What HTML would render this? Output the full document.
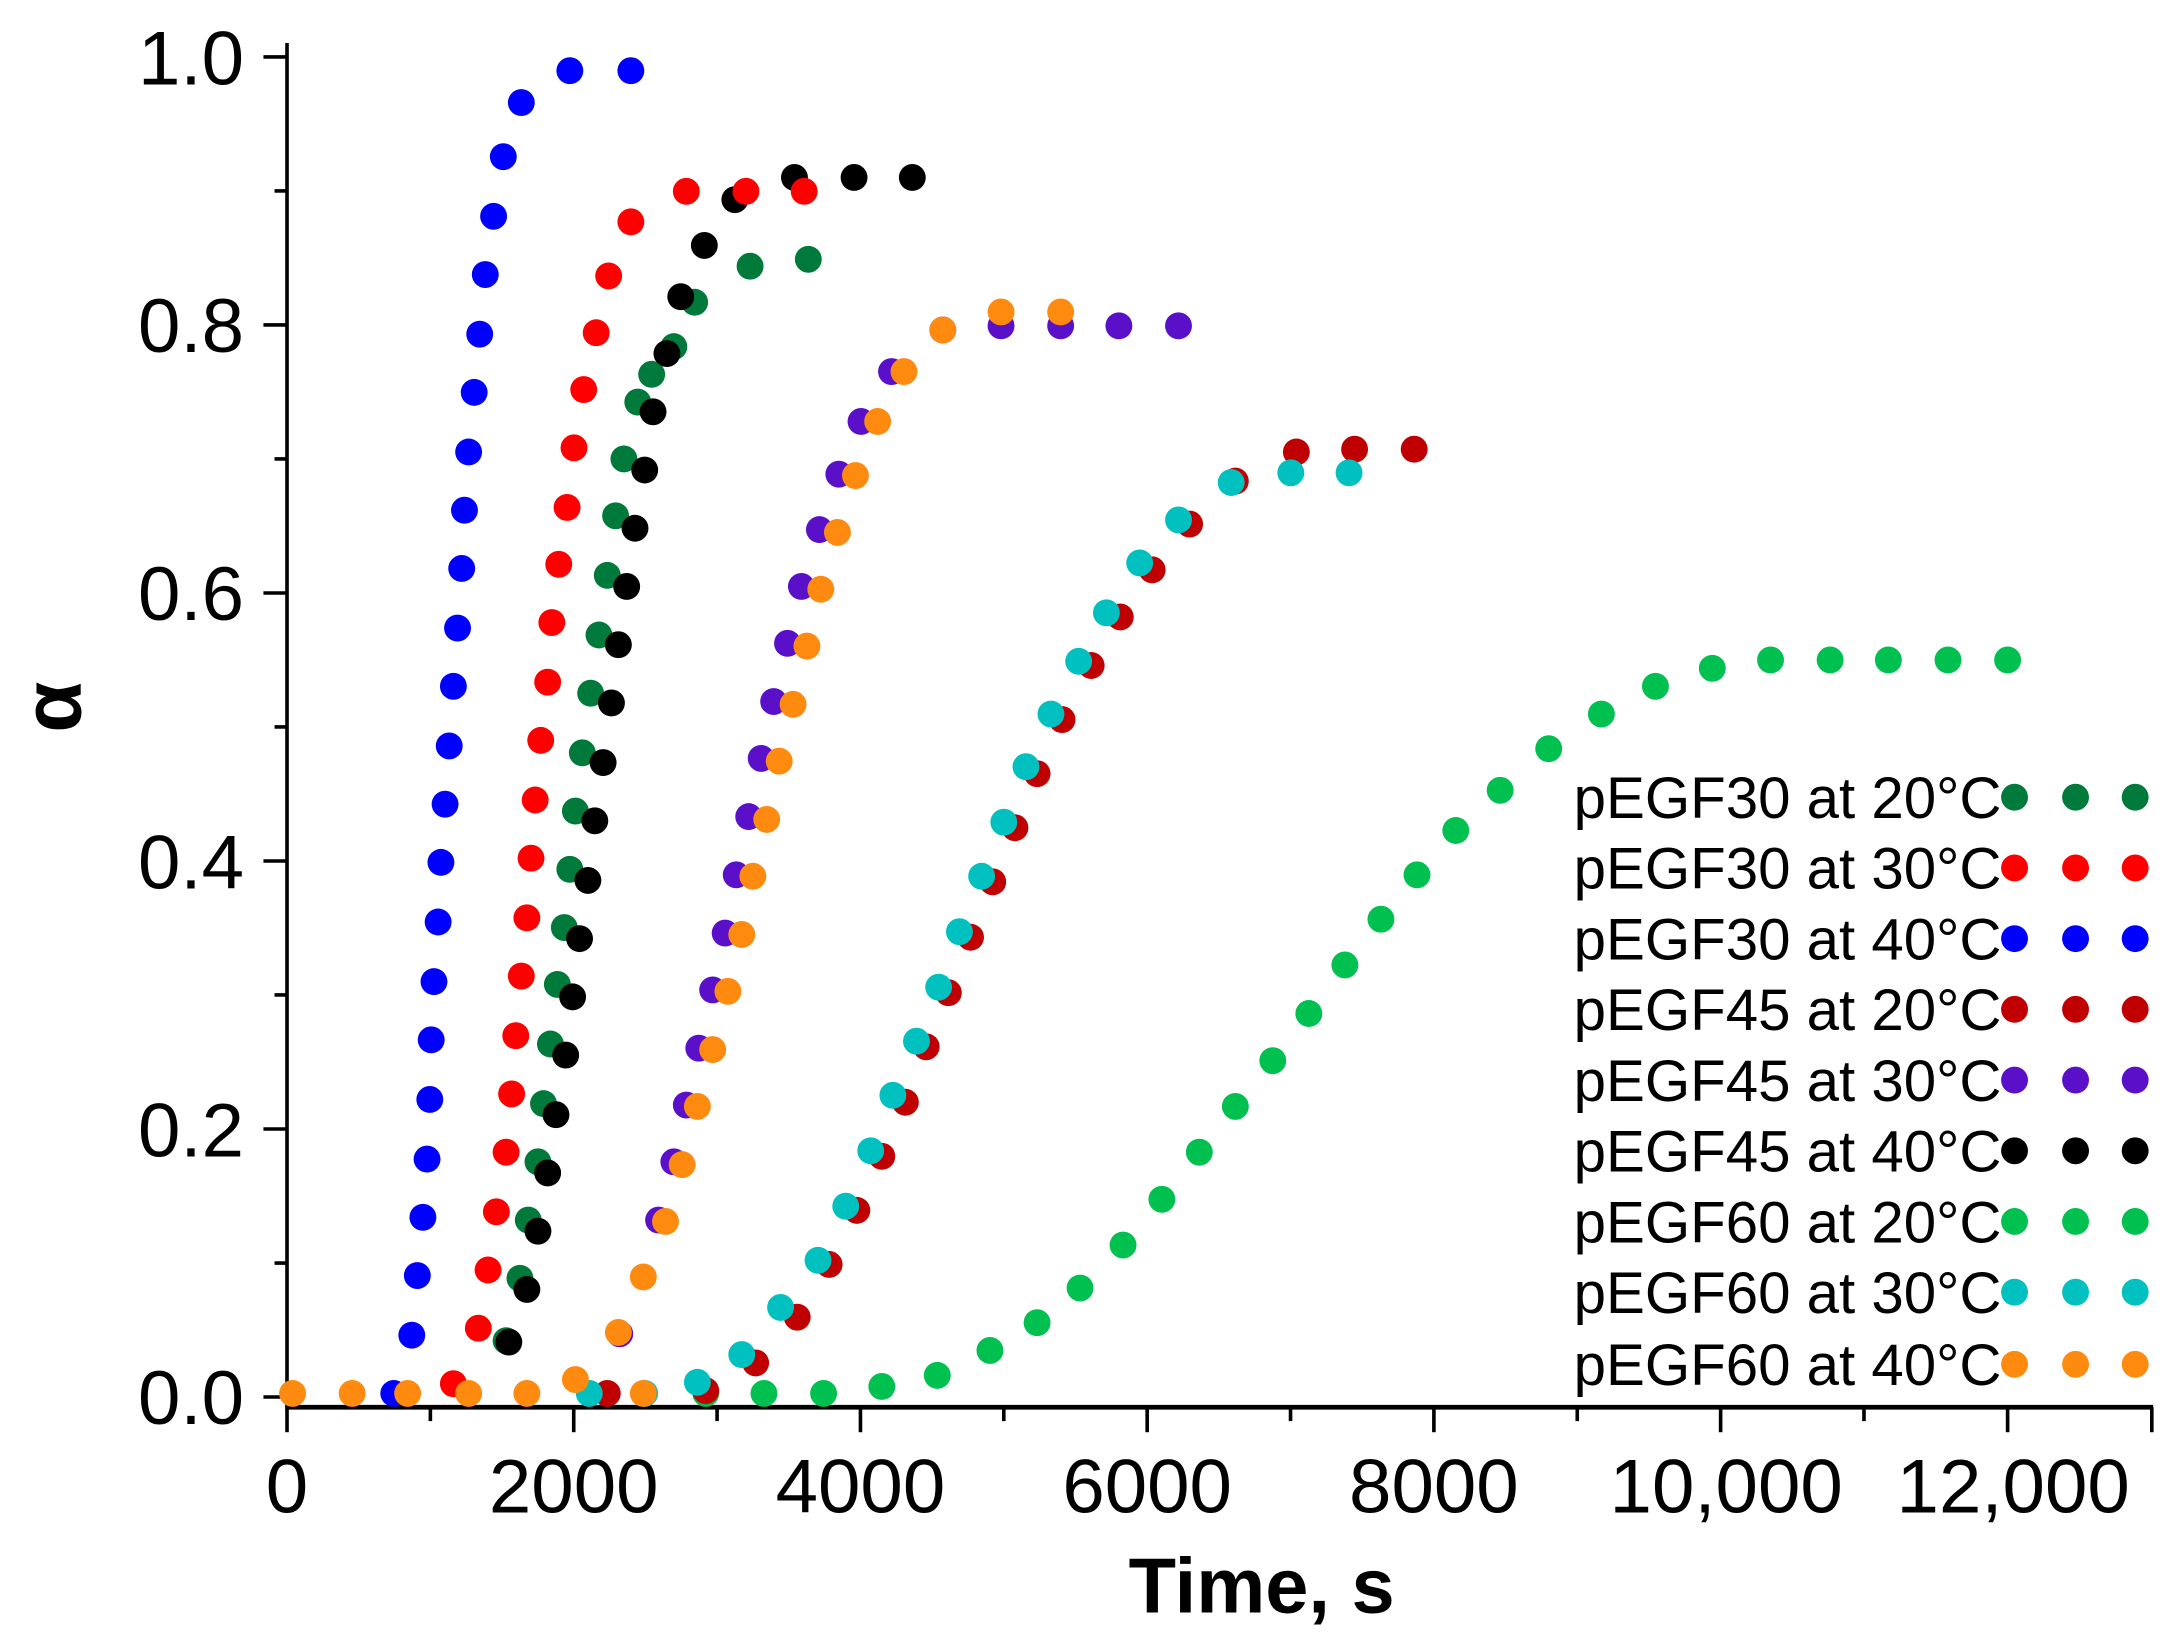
<!DOCTYPE html>
<html><head><meta charset="utf-8"><style>
html,body{margin:0;padding:0;background:#fff;}
svg{display:block;}
text{font-family:"Liberation Sans",Arial,sans-serif;fill:#000;}
</style></head><body>
<svg width="2174" height="1637" viewBox="0 0 1568 1180.7" xmlns="http://www.w3.org/2000/svg">
<g stroke="#000" stroke-width="2.6" fill="none">
<line x1="207" y1="31" x2="207" y2="1015"/>
<line x1="205.7" y1="1015" x2="1553" y2="1015" stroke-width="3.4"/>
<line x1="190" y1="41.1" x2="207" y2="41.1"/><line x1="190" y1="234.4" x2="207" y2="234.4"/><line x1="190" y1="427.7" x2="207" y2="427.7"/><line x1="190" y1="621" x2="207" y2="621"/><line x1="190" y1="814.3" x2="207" y2="814.3"/><line x1="190" y1="1007.6" x2="207" y2="1007.6"/>
<line x1="198" y1="137.7" x2="207" y2="137.7"/><line x1="198" y1="331" x2="207" y2="331"/><line x1="198" y1="524.3" x2="207" y2="524.3"/><line x1="198" y1="717.6" x2="207" y2="717.6"/><line x1="198" y1="911" x2="207" y2="911"/>
<line x1="207" y1="1015" x2="207" y2="1033"/><line x1="413.8" y1="1015" x2="413.8" y2="1033"/><line x1="620.6" y1="1015" x2="620.6" y2="1033"/><line x1="827.4" y1="1015" x2="827.4" y2="1033"/><line x1="1034.2" y1="1015" x2="1034.2" y2="1033"/><line x1="1241" y1="1015" x2="1241" y2="1033"/><line x1="1448" y1="1015" x2="1448" y2="1033"/>
<line x1="310.4" y1="1015" x2="310.4" y2="1025"/><line x1="517.2" y1="1015" x2="517.2" y2="1025"/><line x1="724" y1="1015" x2="724" y2="1025"/><line x1="930.8" y1="1015" x2="930.8" y2="1025"/><line x1="1137.6" y1="1015" x2="1137.6" y2="1025"/><line x1="1344.4" y1="1015" x2="1344.4" y2="1025"/><line x1="1552" y1="1015" x2="1552" y2="1033"/>
</g>
<g font-size="55" text-anchor="end">
<text x="176" y="61">1.0</text><text x="176" y="254">0.8</text><text x="176" y="447">0.6</text><text x="176" y="641">0.4</text><text x="176" y="834">0.2</text><text x="176" y="1027">0.0</text>
</g>
<g font-size="55" text-anchor="middle">
<text x="207" y="1091">0</text><text x="413.8" y="1091">2000</text><text x="620.6" y="1091">4000</text><text x="827.4" y="1091">6000</text><text x="1034.2" y="1091">8000</text><text x="1245" y="1091">10,000</text><text x="1452" y="1091">12,000</text>
</g>
<text x="910" y="1163" font-size="56" font-weight="bold" text-anchor="middle">Time, s</text>
<text transform="translate(58,510) rotate(-90)" font-size="60" font-weight="bold" text-anchor="middle">α</text>

<g fill="#00c050">
<circle cx="509" cy="1005" r="9.7"/><circle cx="551" cy="1005" r="9.7"/><circle cx="594" cy="1005" r="9.7"/><circle cx="636" cy="1000" r="9.7"/><circle cx="676" cy="992" r="9.7"/><circle cx="714" cy="974" r="9.7"/><circle cx="748" cy="954" r="9.7"/><circle cx="779" cy="929" r="9.7"/><circle cx="810" cy="898" r="9.7"/><circle cx="838" cy="865" r="9.7"/><circle cx="865" cy="831" r="9.7"/><circle cx="891" cy="798" r="9.7"/><circle cx="918" cy="765" r="9.7"/><circle cx="944" cy="731" r="9.7"/><circle cx="970" cy="696" r="9.7"/><circle cx="996" cy="663" r="9.7"/><circle cx="1022" cy="631" r="9.7"/><circle cx="1050" cy="599" r="9.7"/><circle cx="1082" cy="570" r="9.7"/><circle cx="1117" cy="540" r="9.7"/><circle cx="1155" cy="515" r="9.7"/><circle cx="1194" cy="495" r="9.7"/><circle cx="1235" cy="482" r="9.7"/><circle cx="1277" cy="476" r="9.7"/><circle cx="1320" cy="476" r="9.7"/><circle cx="1362" cy="476" r="9.7"/><circle cx="1405" cy="476" r="9.7"/><circle cx="1448" cy="476" r="9.7"/>
</g>
<g fill="#c00000">
<circle cx="438" cy="1005" r="9.7"/><circle cx="509" cy="1003" r="9.7"/><circle cx="545" cy="983" r="9.7"/><circle cx="575" cy="950" r="9.7"/><circle cx="598" cy="912" r="9.7"/><circle cx="618" cy="873" r="9.7"/><circle cx="636" cy="834" r="9.7"/><circle cx="653" cy="795" r="9.7"/><circle cx="668" cy="755" r="9.7"/><circle cx="684" cy="716" r="9.7"/><circle cx="700" cy="676" r="9.7"/><circle cx="716" cy="636" r="9.7"/><circle cx="732" cy="597" r="9.7"/><circle cx="748" cy="558" r="9.7"/><circle cx="766" cy="519" r="9.7"/><circle cx="787" cy="480" r="9.7"/><circle cx="808" cy="445" r="9.7"/><circle cx="831" cy="411" r="9.7"/><circle cx="858" cy="378" r="9.7"/><circle cx="891" cy="347" r="9.7"/><circle cx="935" cy="326" r="9.7"/><circle cx="977" cy="324" r="9.7"/><circle cx="1020" cy="324" r="9.7"/>
</g>
<g fill="#00c0c0">
<circle cx="425" cy="1005" r="9.7"/><circle cx="465" cy="1005" r="9.7"/><circle cx="503" cy="997" r="9.7"/><circle cx="535" cy="977" r="9.7"/><circle cx="563" cy="943" r="9.7"/><circle cx="590" cy="909" r="9.7"/><circle cx="610" cy="870" r="9.7"/><circle cx="628" cy="830" r="9.7"/><circle cx="644" cy="790" r="9.7"/><circle cx="661" cy="751" r="9.7"/><circle cx="677" cy="712" r="9.7"/><circle cx="692" cy="672" r="9.7"/><circle cx="708" cy="632" r="9.7"/><circle cx="724" cy="593" r="9.7"/><circle cx="740" cy="553" r="9.7"/><circle cx="758" cy="515" r="9.7"/><circle cx="778" cy="477" r="9.7"/><circle cx="798" cy="442" r="9.7"/><circle cx="822" cy="406" r="9.7"/><circle cx="850" cy="375" r="9.7"/><circle cx="888" cy="348" r="9.7"/><circle cx="931" cy="341" r="9.7"/><circle cx="973" cy="341" r="9.7"/>
</g>
<g fill="#007a3a">
<circle cx="365" cy="967" r="9.7"/><circle cx="375" cy="922" r="9.7"/><circle cx="381" cy="880" r="9.7"/><circle cx="388" cy="838" r="9.7"/><circle cx="392" cy="796" r="9.7"/><circle cx="397" cy="753" r="9.7"/><circle cx="402" cy="710" r="9.7"/><circle cx="407" cy="669" r="9.7"/><circle cx="411" cy="627" r="9.7"/><circle cx="415" cy="585" r="9.7"/><circle cx="420" cy="543" r="9.7"/><circle cx="426" cy="500" r="9.7"/><circle cx="432" cy="458" r="9.7"/><circle cx="438" cy="415" r="9.7"/><circle cx="444" cy="372" r="9.7"/><circle cx="450" cy="331" r="9.7"/><circle cx="460" cy="290" r="9.7"/><circle cx="470" cy="270" r="9.7"/><circle cx="486" cy="250" r="9.7"/><circle cx="501" cy="218" r="9.7"/><circle cx="541" cy="192" r="9.7"/><circle cx="583" cy="187" r="9.7"/>
</g>
<g fill="#000">
<circle cx="367" cy="968" r="9.7"/><circle cx="380" cy="930" r="9.7"/><circle cx="388" cy="888" r="9.7"/><circle cx="395" cy="846" r="9.7"/><circle cx="401" cy="804" r="9.7"/><circle cx="408" cy="761" r="9.7"/><circle cx="413" cy="719" r="9.7"/><circle cx="418" cy="677" r="9.7"/><circle cx="424" cy="635" r="9.7"/><circle cx="429" cy="592" r="9.7"/><circle cx="435" cy="550" r="9.7"/><circle cx="441" cy="507" r="9.7"/><circle cx="446" cy="465" r="9.7"/><circle cx="452" cy="423" r="9.7"/><circle cx="458" cy="381" r="9.7"/><circle cx="465" cy="339" r="9.7"/><circle cx="471" cy="297" r="9.7"/><circle cx="481" cy="255" r="9.7"/><circle cx="491" cy="214" r="9.7"/><circle cx="508" cy="177" r="9.7"/><circle cx="530" cy="144" r="9.7"/><circle cx="573" cy="128" r="9.7"/><circle cx="616" cy="128" r="9.7"/><circle cx="658" cy="128" r="9.7"/>
</g>
<g fill="#ff0000">
<circle cx="327" cy="998" r="9.7"/><circle cx="345" cy="958" r="9.7"/><circle cx="352" cy="916" r="9.7"/><circle cx="358" cy="874" r="9.7"/><circle cx="365" cy="831" r="9.7"/><circle cx="369" cy="789" r="9.7"/><circle cx="372" cy="747" r="9.7"/><circle cx="376" cy="704" r="9.7"/><circle cx="380" cy="662" r="9.7"/><circle cx="383" cy="619" r="9.7"/><circle cx="386" cy="577" r="9.7"/><circle cx="390" cy="534" r="9.7"/><circle cx="395" cy="492" r="9.7"/><circle cx="398" cy="449" r="9.7"/><circle cx="403" cy="407" r="9.7"/><circle cx="409" cy="366" r="9.7"/><circle cx="414" cy="323" r="9.7"/><circle cx="421" cy="281" r="9.7"/><circle cx="430" cy="240" r="9.7"/><circle cx="439" cy="199" r="9.7"/><circle cx="455" cy="160" r="9.7"/><circle cx="495" cy="138" r="9.7"/><circle cx="538" cy="138" r="9.7"/><circle cx="580" cy="138" r="9.7"/>
</g>
<g fill="#0000ff">
<circle cx="284" cy="1005" r="9.7"/><circle cx="297" cy="963" r="9.7"/><circle cx="301" cy="920" r="9.7"/><circle cx="305" cy="878" r="9.7"/><circle cx="308" cy="836" r="9.7"/><circle cx="310" cy="793" r="9.7"/><circle cx="311" cy="750" r="9.7"/><circle cx="313" cy="708" r="9.7"/><circle cx="316" cy="665" r="9.7"/><circle cx="318" cy="622" r="9.7"/><circle cx="321" cy="580" r="9.7"/><circle cx="324" cy="538" r="9.7"/><circle cx="327" cy="495" r="9.7"/><circle cx="330" cy="453" r="9.7"/><circle cx="333" cy="410" r="9.7"/><circle cx="335" cy="368" r="9.7"/><circle cx="338" cy="326" r="9.7"/><circle cx="342" cy="283" r="9.7"/><circle cx="346" cy="241" r="9.7"/><circle cx="350" cy="198" r="9.7"/><circle cx="356" cy="156" r="9.7"/><circle cx="363" cy="113" r="9.7"/><circle cx="376" cy="74" r="9.7"/><circle cx="411" cy="51" r="9.7"/><circle cx="455" cy="51" r="9.7"/>
</g>
<g fill="#5a10c8">
<circle cx="447" cy="962" r="9.7"/><circle cx="475" cy="880" r="9.7"/><circle cx="486" cy="838" r="9.7"/><circle cx="495" cy="797" r="9.7"/><circle cx="504" cy="756" r="9.7"/><circle cx="514" cy="714" r="9.7"/><circle cx="523" cy="673" r="9.7"/><circle cx="531" cy="631" r="9.7"/><circle cx="540" cy="589" r="9.7"/><circle cx="549" cy="547" r="9.7"/><circle cx="558" cy="506" r="9.7"/><circle cx="568" cy="464" r="9.7"/><circle cx="578" cy="423" r="9.7"/><circle cx="591" cy="382" r="9.7"/><circle cx="605" cy="342" r="9.7"/><circle cx="621" cy="304" r="9.7"/><circle cx="643" cy="268" r="9.7"/><circle cx="680" cy="238" r="9.7"/><circle cx="722" cy="235" r="9.7"/><circle cx="765" cy="235" r="9.7"/><circle cx="807" cy="235" r="9.7"/><circle cx="850" cy="235" r="9.7"/>
</g>
<g fill="#ff8a10">
<circle cx="211" cy="1005" r="9.7"/><circle cx="254" cy="1005" r="9.7"/><circle cx="294" cy="1005" r="9.7"/><circle cx="338" cy="1005" r="9.7"/><circle cx="380" cy="1005" r="9.7"/><circle cx="415" cy="995" r="9.7"/><circle cx="464" cy="1005" r="9.7"/><circle cx="446" cy="961" r="9.7"/><circle cx="464" cy="921" r="9.7"/><circle cx="480" cy="881" r="9.7"/><circle cx="492" cy="840" r="9.7"/><circle cx="503" cy="798" r="9.7"/><circle cx="514" cy="757" r="9.7"/><circle cx="525" cy="715" r="9.7"/><circle cx="535" cy="674" r="9.7"/><circle cx="543" cy="632" r="9.7"/><circle cx="553" cy="591" r="9.7"/><circle cx="562" cy="549" r="9.7"/><circle cx="572" cy="508" r="9.7"/><circle cx="582" cy="466" r="9.7"/><circle cx="592" cy="425" r="9.7"/><circle cx="604" cy="384" r="9.7"/><circle cx="617" cy="343" r="9.7"/><circle cx="633" cy="304" r="9.7"/><circle cx="652" cy="268" r="9.7"/><circle cx="680" cy="238" r="9.7"/><circle cx="722" cy="225" r="9.7"/><circle cx="765" cy="225" r="9.7"/>
</g>

<g font-size="42">
<text x="1135" y="590">pEGF30 at 20°C</text>
<text x="1135" y="641">pEGF30 at 30°C</text>
<text x="1135" y="692">pEGF30 at 40°C</text>
<text x="1135" y="743">pEGF45 at 20°C</text>
<text x="1135" y="794">pEGF45 at 30°C</text>
<text x="1135" y="845">pEGF45 at 40°C</text>
<text x="1135" y="896">pEGF60 at 20°C</text>
<text x="1135" y="947">pEGF60 at 30°C</text>
<text x="1135" y="999">pEGF60 at 40°C</text>
</g>
<g>
<g fill="#007a3a"><circle cx="1453" cy="575" r="9.7"/><circle cx="1497" cy="575" r="9.7"/><circle cx="1540" cy="575" r="9.7"/></g>
<g fill="#ff0000"><circle cx="1453" cy="626" r="9.7"/><circle cx="1497" cy="626" r="9.7"/><circle cx="1540" cy="626" r="9.7"/></g>
<g fill="#0000ff"><circle cx="1453" cy="677" r="9.7"/><circle cx="1497" cy="677" r="9.7"/><circle cx="1540" cy="677" r="9.7"/></g>
<g fill="#c00000"><circle cx="1453" cy="728" r="9.7"/><circle cx="1497" cy="728" r="9.7"/><circle cx="1540" cy="728" r="9.7"/></g>
<g fill="#5a10c8"><circle cx="1453" cy="779" r="9.7"/><circle cx="1497" cy="779" r="9.7"/><circle cx="1540" cy="779" r="9.7"/></g>
<g fill="#000"><circle cx="1453" cy="830" r="9.7"/><circle cx="1497" cy="830" r="9.7"/><circle cx="1540" cy="830" r="9.7"/></g>
<g fill="#00c050"><circle cx="1453" cy="881" r="9.7"/><circle cx="1497" cy="881" r="9.7"/><circle cx="1540" cy="881" r="9.7"/></g>
<g fill="#00c0c0"><circle cx="1453" cy="932" r="9.7"/><circle cx="1497" cy="932" r="9.7"/><circle cx="1540" cy="932" r="9.7"/></g>
<g fill="#ff8a10"><circle cx="1453" cy="984" r="9.7"/><circle cx="1497" cy="984" r="9.7"/><circle cx="1540" cy="984" r="9.7"/></g>
</g>
</svg>
</body></html>
